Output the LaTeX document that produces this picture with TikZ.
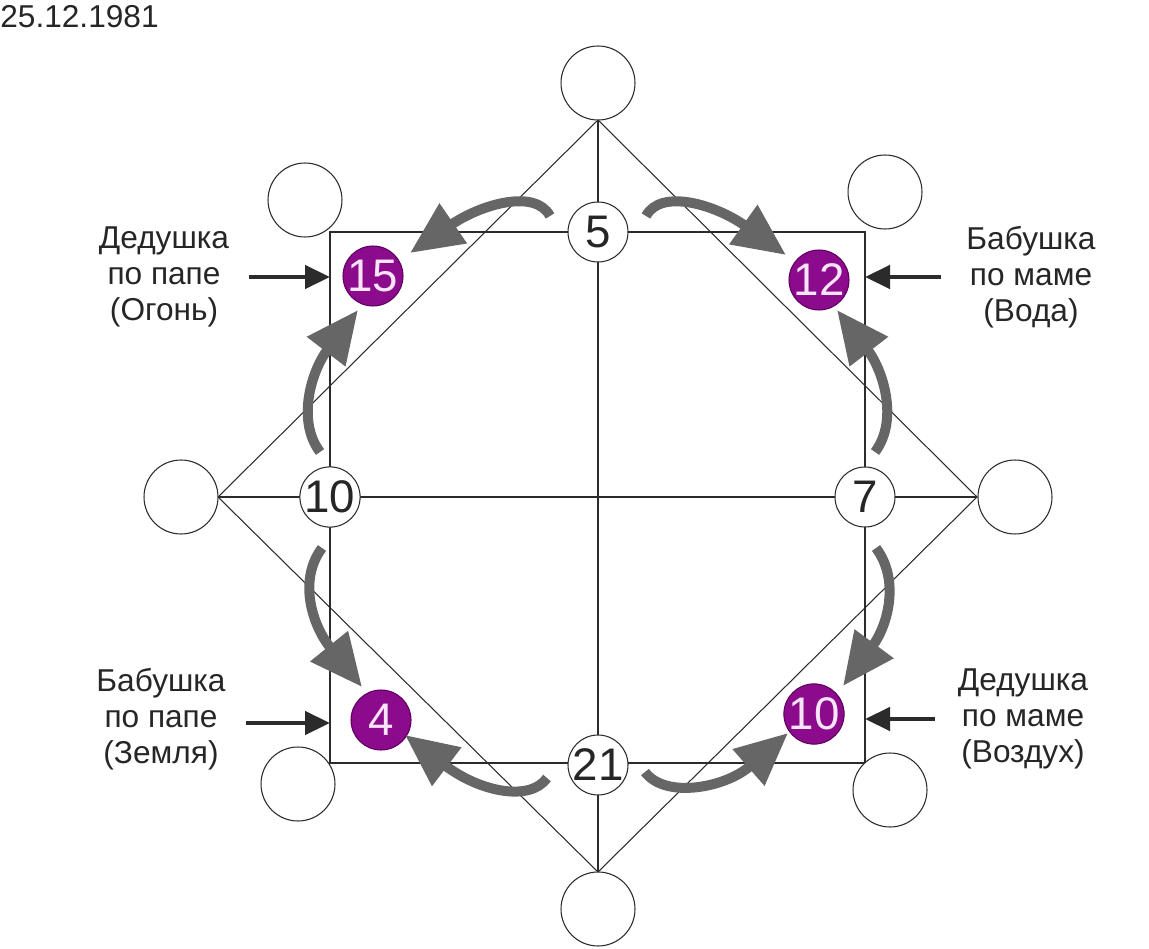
\documentclass[tikz,border=0pt]{standalone}
\usepackage{fontspec}
\setmainfont{Liberation Sans}
\usetikzlibrary{arrows.meta,calc}
\definecolor{DGline}{HTML}{2B2B2B}
\definecolor{DGgray}{HTML}{666666}
\definecolor{DGpurple}{HTML}{8C0A8C}
\definecolor{DGpurpleDark}{HTML}{5E005E}
\definecolor{DGpink}{HTML}{F8E4F8}
\tikzset{
  emptycirc/.style={circle, draw=DGline, fill=white, line width=0.6pt, minimum size=1.48cm, inner sep=0pt},
  numcirc/.style={circle, draw=DGline, fill=white, line width=0.6pt, minimum size=1.2cm, inner sep=0pt, font=\fontsize{26}{30}\selectfont, text=black!85},
  ancestor/.style={circle, draw=DGpurpleDark, fill=DGpurple, line width=0.6pt, minimum size=1.2cm, inner sep=0pt, font=\fontsize{26}{30}\selectfont, text=DGpink},
  caption/.style={align=center, font=\fontsize{18}{20.5}\selectfont, text=black!85, inner sep=0pt},
  gridline/.style={draw=DGline, line width=0.6pt},
  flowarr/.style={-{Triangle[length=1.05cm, width=0.92cm]}, line width=0.2cm, draw=DGgray},
  ptrarr/.style={-{Triangle[length=0.5cm, width=0.46cm]}, line width=0.09cm, draw=DGline}
}

\begin{document}
\begin{tikzpicture}[x=0.02cm, y=-0.02cm]
\useasboundingbox (0,0) rectangle (1149,949);
% square, diamond and cross
\coordinate (T) at (598,120);
\coordinate (R) at (977,497);
\coordinate (B) at (598,872);
\coordinate (L) at (218,497);
\draw[gridline] (330,232) rectangle (865,763);
\draw[gridline] (T) -- (R) -- (B) -- (L) -- cycle;
\draw[gridline] (T) -- (B) (L) -- (R);
% outer empty circles
\node[emptycirc] (top) at (598,83) {};
\node[emptycirc] (bot) at (598,909) {};
\node[emptycirc] (lft) at (181,497) {};
\node[emptycirc] (rgt) at (1015,497) {};
\node[emptycirc] (ctl) at (305,200) {};
\node[emptycirc] (ctr) at (885,192) {};
\node[emptycirc] (cbl) at (298,784) {};
\node[emptycirc] (cbr) at (890,790) {};
% numbers on the square
\node[numcirc] (n5) at (598,232) {5};
\node[numcirc] (n21) at (598,765) {21};
\node[numcirc] (n10) at (330,497) {10};
\node[numcirc] (n7) at (865,497) {7};
% ancestors
\node[ancestor] (p15) at (373,276) {15};
\node[ancestor] (p12) at (819,280) {12};
\node[ancestor] (p4) at (381,720) {4};
\node[ancestor] (p10) at (814,714) {10};
% flow arrows
\coordinate (s1) at (550,216); \coordinate (e1) at (410,253);
\coordinate (s2) at (646,216); \coordinate (e2) at (786,255);
\coordinate (s3) at (320,452); \coordinate (e3) at (358,310);
\coordinate (s4) at (875,452); \coordinate (e4) at (837,310);
\coordinate (s5) at (322,548); \coordinate (e5) at (362,687);
\coordinate (s6) at (876,548); \coordinate (e6) at (843,686);
\coordinate (s7) at (547,778); \coordinate (e7) at (405,735);
\coordinate (s8) at (645,772); \coordinate (e8) at (788,733);
\draw[flowarr] (s1) .. controls (535,188) and (480,205) .. (e1);
\draw[flowarr] (s2) .. controls (661,188) and (716,205) .. (e2);
\draw[flowarr] (s3) .. controls (296,420) and (312,370) .. (e3);
\draw[flowarr] (s4) .. controls (899,420) and (883,370) .. (e4);
\draw[flowarr] (s5) .. controls (298,580) and (312,625) .. (e5);
\draw[flowarr] (s6) .. controls (900,580) and (888,625) .. (e6);
\draw[flowarr] (s7) .. controls (530,802) and (480,792) .. (e7);
\draw[flowarr] (s8) .. controls (665,799) and (725,788) .. (e8);
% captions
\node[caption] (dp) at (164,277) {Дедушка\\по папе\\(Огонь)};
\node[caption] (bm) at (1031,277) {Бабушка\\по маме\\(Вода)};
\node[caption] (bp) at (161,719) {Бабушка\\по папе\\(Земля)};
\node[caption] (dm) at (1023,719) {Дедушка\\по маме\\(Воздух)};
\draw[ptrarr] (dp.east) ++(20,0) -- (dp.east -| n10.center);
\draw[ptrarr] (bm.west) ++(-25,0) -- (bm.west -| n7.center);
\draw[ptrarr] ([yshift=-0.08cm]bp.east) ++(20,0) -- ([yshift=-0.08cm]bp.east -| n10.center);
\draw[ptrarr] (dm.west) ++(-23,0) -- (dm.west -| n7.center);
\node[anchor=west, inner sep=0pt, font=\fontsize{18}{20}\selectfont, text=black!85] (date) at (0,17) {25.12.1981};
\end{tikzpicture}
\end{document}
